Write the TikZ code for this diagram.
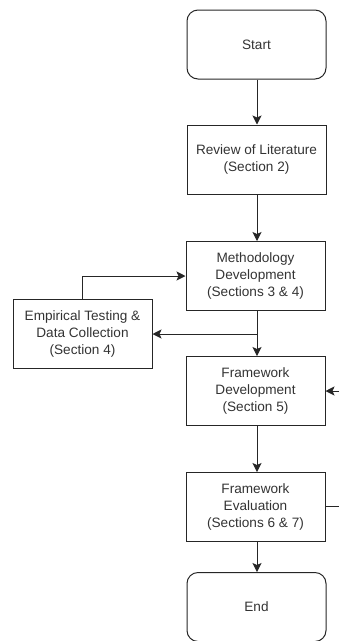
\documentclass[tikz,border=0pt]{standalone}
\usepackage{fontspec}
\setmainfont{Liberation Sans}
\usetikzlibrary{arrows.meta}
\begin{document}
\begin{tikzpicture}[x=1pt,y=-1pt,
  every node/.style={font=\fontsize{13.6}{17}\selectfont, text=black!80, align=center, inner sep=0pt},
  stepbox/.style={draw=black!85, line width=1pt, minimum width=139pt, minimum height=69pt},
  termbox/.style={stepbox, rounded corners=11pt},
  flow/.style={draw=black!85, line width=1pt, -{Stealth[length=9pt,width=9pt,inset=2pt]}},
  link/.style={draw=black!85, line width=1pt}]
  \useasboundingbox (0,0) rectangle (338,641);

  % main column
  \node[termbox] (start) at (256.5,44.5) {Start};
  \node[stepbox] (lit) at (256.5,159.5) {Review of Literature\\(Section 2)};
  \node[stepbox] (meth) at (255.5,276) {Methodology\\Development\\(Sections 3 \& 4)};
  \node[stepbox] (fdev) at (255.5,391) {Framework\\Development\\(Section 5)};
  \node[stepbox] (feval) at (255.5,507) {Framework\\Evaluation\\(Sections 6 \& 7)};
  \node[termbox] (end) at (256.5,607) {End};

  % side branch
  \node[stepbox] (emp) at (82.5,333.5) {Empirical Testing \&\\Data Collection\\(Section 4)};

  \coordinate (split) at (257,334);
  \coordinate (fbin) at (340,391);
  \coordinate (fbout) at (340,506);

  \draw[flow] (start.south -| 257,0) -- (lit.north -| 257,0);
  \draw[flow] (lit.south -| 257,0) -- (meth.north -| 257,0);
  \draw[flow] (meth.south -| split) -- (fdev.north -| split);
  \draw[flow] (split) -- (emp.east |- split);
  \draw[flow] (emp.north -| 82,0) |- (meth.west |- 0,276);
  \draw[flow] (fbin) -- (fdev.east);
  \draw[flow] (fdev.south -| 257,0) -- (feval.north -| 257,0);
  \draw[link] (feval.east |- fbout) -- (fbout);
  \draw[flow] (feval.south -| 257,0) -- (end.north -| 257,0);
\end{tikzpicture}
\end{document}
